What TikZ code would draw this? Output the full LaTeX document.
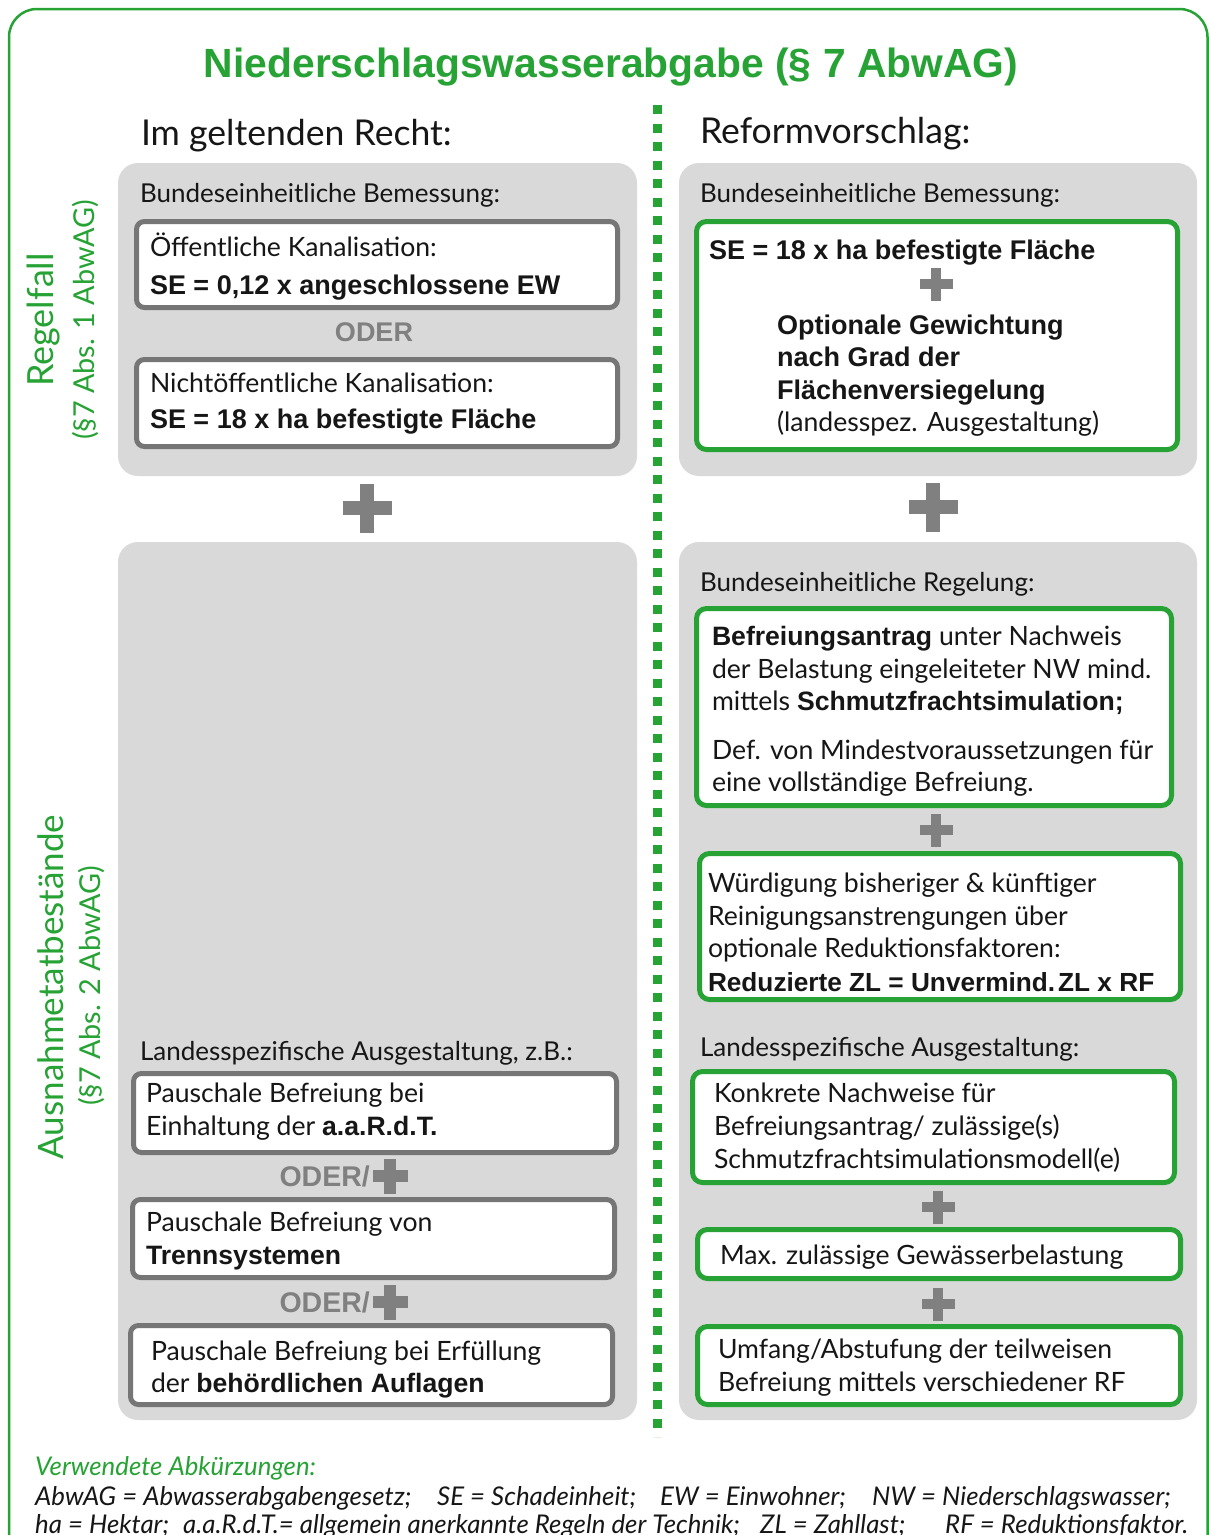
\documentclass[tikz,border=0pt]{standalone}
\usepackage{fontspec}
\setmainfont{Lato}
\newfontfamily\arialf{Liberation Sans}
\definecolor{grn}{RGB}{38,163,52}
\definecolor{panel}{RGB}{217,217,217}
\definecolor{gbord}{RGB}{118,118,118}
\definecolor{plusg}{RGB}{128,128,128}
\definecolor{txtc}{RGB}{22,22,22}
\newcommand\bt[1]{{\arialf\bfseries #1}}
\newcommand\rf{\fontsize{26.6}{31}\selectfont}
\newcommand\plusat[4]{%
  \fill[plusg] ({#1-#3/2},{#2-#4/2}) rectangle ({#1+#3/2},{#2+#4/2});
  \fill[plusg] ({#1-#4/2},{#2-#3/2}) rectangle ({#1+#4/2},{#2+#3/2});}
\begin{document}
\begin{tikzpicture}[x=1pt,y=-1pt,
  t/.style={anchor=base west, inner sep=0pt, outer sep=0pt, font=\rf, text=txtc},
  th/.style={t, font=\fontsize{26}{31}\selectfont},
  tb/.style={t, font=\fontsize{27}{31}\arialf\bfseries},
  oder/.style={inner sep=0pt, font=\fontsize{27}{31}\arialf\bfseries, text=plusg},
  side/.style={inner sep=0pt, anchor=base, rotate=90, text=grn},
  foot/.style={anchor=base west, inner sep=0pt, font=\fontsize{25.8}{30}\itshape, text=txtc},
  panelbox/.style={fill=panel, rounded corners=20pt},
  graybox/.style={fill=white, draw=gbord, line width=5pt, rounded corners=8pt},
  greenbox/.style={fill=white, draw=grn, line width=5pt, rounded corners=10pt}]
\useasboundingbox (0,0) rectangle (1209,1535);
\clip (0,0) rectangle (1209,1535);
\fill[white] (0,0) rectangle (1209,1535);
% outer frame
\draw[grn, line width=2.5pt, rounded corners=28pt] (9,9) rectangle (1207.5,1565);
% title
\node[anchor=base, inner sep=0pt, font=\fontsize{40.8}{46}\arialf\bfseries, text=grn] (title) at (611,77) {Niederschlagswasserabgabe (§ 7 AbwAG)};
% divider
\draw[grn, line width=9pt, dash pattern=on 9pt off 9.5pt] (657,105) -- (657,1437);
% headings
\node[t, font=\fontsize{35.6}{42}\selectfont] (hl) at (141,145) {Im geltenden Recht:};
\node[t, font=\fontsize{35.6}{42}\selectfont] (hr) at (700,143) {Reformvorschlag:};
% side labels
\node[side, font=\fontsize{36}{42}\selectfont] (regel) at (53,320) {Regelfall};
\node[side, font=\fontsize{28.8}{34}\selectfont] (regelp) at (94,320) {(§7 Abs. 1 AbwAG)};
\node[side, font=\fontsize{35}{42}\selectfont] (ausn) at (63,987) {Ausnahmetatbestände};
\node[side, font=\fontsize{28.8}{34}\selectfont] (ausnp) at (100,986) {(§7 Abs. 2 AbwAG)};
% panels
\path[panelbox] (118,163) rectangle (637,476);
\path[panelbox] (679,163) rectangle (1197,476);
\path[panelbox] (118,542) rectangle (637,1420);
\path[panelbox] (679,542) rectangle (1197,1420);
% big plus signs
\plusat{367}{508}{49}{14}
\plusat{933}{507}{49}{14}

% ---- left panel 1
\node[th] (l1h) at (140,202) {Bundeseinheitliche Bemessung:};
\path[graybox] (136.5,221.5) rectangle (617.5,307.5);
\node[t] (l1a) at (150,256) {Öffentliche Kanalisation:};
\node[tb] (l1b) at (150,294) {SE = 0,12 x angeschlossene EW};
\node[oder, anchor=base] (l1o) at (374,341) {ODER};
\path[graybox] (136.5,359.5) rectangle (617.5,446.5);
\node[t] (l1c) at (150,392) {Nichtöffentliche Kanalisation:};
\node[tb] (l1d) at (150,428) {SE = 18 x ha befestigte Fläche};

% ---- right panel 1
\node[th] (r1h) at (700,202) {Bundeseinheitliche Bemessung:};
\path[greenbox] (696.5,221.5) rectangle (1177.5,449.5);
\node[tb] (r1a) at (709,259) {SE = 18 x ha befestigte Fläche};
\plusat{936}{284}{33}{10}
\node[tb] (r1b) at (777,334) {Optionale Gewichtung};
\node[tb] (r1c) at (777,366) {nach Grad der};
\node[tb] (r1d) at (777,399) {Flächenversiegelung};
\node[t] (r1e) at (777,431) {(landesspez. Ausgestaltung)};

% ---- right panel 2
\node[th] (r2h) at (700,591) {Bundeseinheitliche Regelung:};
\path[greenbox] (696.5,608.5) rectangle (1171.5,805.5);
\node[t] (r2a) at (712,645) {\bt{Befreiungsantrag} unter Nachweis};
\node[t] (r2b) at (712,678) {der Belastung eingeleiteter NW mind.};
\node[t] (r2c) at (712,710) {mittels \bt{Schmutzfrachtsimulation;}};
\node[t] (r2d) at (712,759) {Def. von Mindestvoraussetzungen für};
\node[t] (r2e) at (712,791) {eine vollständige Befreiung.};
\plusat{936}{830}{33}{10}
\path[greenbox] (699.5,853.5) rectangle (1180.5,999.5);
\node[t] (r2f) at (708,892) {Würdigung bisheriger \& künftiger};
\node[t] (r2g) at (708,925) {Reinigungsanstrengungen über};
\node[t] (r2i) at (708,957) {optionale Reduktionsfaktoren:};
\node[tb, font=\fontsize{26.2}{31}\arialf\bfseries] (r2j) at (708,991) {Reduzierte ZL = Unvermind.\kern3pt ZL x RF};
\node[th] (r3h) at (700,1056) {Landesspezifische Ausgestaltung:};
\path[greenbox] (692.5,1071.5) rectangle (1174.5,1182.5);
\node[t] (r3a) at (714,1102) {Konkrete Nachweise für};
\node[t] (r3b) at (714,1135) {Befreiungsantrag/ zulässige(s)};
\node[t] (r3c) at (714,1168) {Schmutzfrachtsimulationsmodell(e)};
\plusat{938}{1207}{33}{10}
\path[greenbox] (697.5,1229.5) rectangle (1180.5,1278.5);
\node[t] (r3d) at (720,1264) {Max. zulässige Gewässerbelastung};
\plusat{938}{1304}{33}{10}
\path[greenbox] (697.5,1326.5) rectangle (1180.5,1404.5);
\node[t] (r3e) at (718,1358) {Umfang/Abstufung der teilweisen};
\node[t] (r3f) at (718,1391) {Befreiung mittels verschiedener RF};

% ---- left panel 2
\node[th] (l2h) at (140,1060) {Landesspezifische Ausgestaltung, z.B.:};
\path[graybox] (133.5,1073.5) rectangle (616.5,1152.5);
\node[t] (l2a) at (146,1102) {Pauschale Befreiung bei};
\node[t] (l2b) at (146,1135) {Einhaltung der \bt{a.a.R.d.T.}};
\node[oder, font=\fontsize{28.5}{31}\arialf\bfseries, anchor=base east] (l2o1) at (370,1186) {ODER/};
\plusat{390}{1176}{35}{12}
\path[graybox] (132.5,1199.5) rectangle (614.5,1277.5);
\node[t] (l2c) at (146,1231) {Pauschale Befreiung von};
\node[t] (l2d) at (146,1264) {\bt{Trennsystemen}};
\node[oder, font=\fontsize{28.5}{31}\arialf\bfseries, anchor=base east] (l2o2) at (370,1312) {ODER/};
\plusat{390}{1302}{35}{12}
\path[graybox] (130.5,1325.5) rectangle (612.5,1404.5);
\node[t] (l2e) at (151,1360) {Pauschale Befreiung bei Erfüllung};
\node[t] (l2f) at (151,1392) {der \bt{behördlichen Auflagen}};

% ---- footer
\node[foot, text=grn] (f0) at (35,1475) {Verwendete Abkürzungen:};
\node[foot] (f1) at (35,1505) {AbwAG = Abwasserabgabengesetz;};
\node[foot] (f2) at (437,1505) {SE = Schadeinheit;};
\node[foot] (f3) at (660,1505) {EW = Einwohner;};
\node[foot] (f4) at (872,1505) {NW = Niederschlagswasser;};
\node[foot] (f5) at (35,1533) {ha = Hektar;};
\node[foot] (f6) at (183,1533) {a.a.R.d.T.= allgemein anerkannte Regeln der Technik;};
\node[foot] (f7) at (760,1533) {ZL = Zahllast;};
\node[foot] (f8) at (945,1533) {RF = Reduktionsfaktor.};
\end{tikzpicture}
\end{document}
